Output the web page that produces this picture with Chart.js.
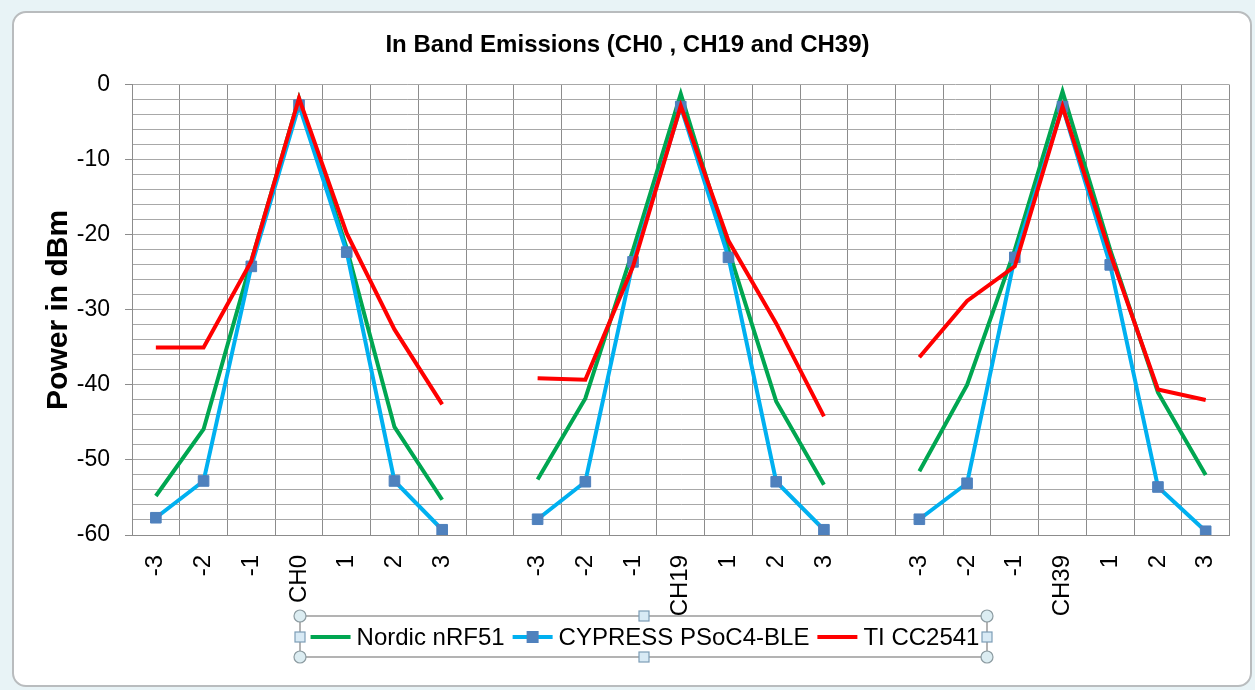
<!DOCTYPE html>
<html><head><meta charset="utf-8">
<script src="https://cdn.jsdelivr.net/npm/chart.js@4/dist/chart.umd.min.js"></script>
<style>
html,body{margin:0;padding:0;background:#e8f3f6;width:1255px;height:690px;overflow:hidden}
#frame{position:absolute;left:12px;top:11px;width:1236px;height:672px;background:#fff;border:2px solid #b9bcbe;border-radius:14px;}
#wrap{position:absolute;left:0;top:0;width:1255px;height:690px}
</style></head><body>
<div id="frame"></div>
<div id="wrap"><canvas id="c" width="1255" height="690"></canvas></div>
<script>
// ---- data ----
const categories = ['-3','-2','-1','CH0','1','2','3','',
                    '-3','-2','-1','CH19','1','2','3','',
                    '-3','-2','-1','CH39','1','2','3'];
const nordicNRF51 = [-54.8,-45.9,-23.5,-1.8,-21.8,-45.6,-55.3,null,
                     -52.6,-41.8,-22.0,-1.2,-22.0,-42.2,-53.3,null,
                     -51.5,-40.0,-22.0,-0.9,-22.0,-41.0,-52.0];
const cypressPSoC4 = [-57.7,-52.8,-24.2,-2.7,-22.3,-52.8,-59.3,null,
                      -57.9,-52.9,-23.6,-2.9,-23.0,-52.9,-59.3,null,
                      -57.9,-53.1,-23.0,-2.9,-24.0,-53.6,-59.5];
const tiCC2541 = [-35.0,-35.0,-23.5,-1.8,-19.8,-32.6,-42.6,null,
                  -39.1,-39.3,-24.2,-2.8,-20.8,-31.8,-44.2,null,
                  -36.3,-28.8,-24.2,-2.9,-22.5,-40.6,-42.0];
const seriesNames = ['Nordic nRF51','CYPRESS PSoC4-BLE','TI CC2541'];
const yMin = -60, yMax = 0, yMinorStep = 2, yMajorStep = 10;
const titleText = 'In Band Emissions (CH0 , CH19 and CH39)';
const yTitle = 'Power in dBm';

const FONT = '"Liberation Sans", Arial, sans-serif';

const legendPlugin = {
  id: 'boxLegend',
  afterDraw(chart) {
    const ctx = chart.ctx;
    const x0 = 300, x1 = 987, y0 = 616, y1 = 657, cy = 637, cx = 645;
    ctx.save();
    ctx.strokeStyle = '#9a9a9a';
    ctx.lineWidth = 1.5;
    ctx.strokeRect(x0, y0, x1 - x0, y1 - y0);
    ctx.font = '24px ' + FONT;
    ctx.textBaseline = 'middle';
    ctx.textAlign = 'left';
    const ds = chart.data.datasets;
    const lineLen = 40, gapText = 6, gapItem = 8;
    const widths = ds.map(d => ctx.measureText(d.label).width);
    let total = 0;
    ds.forEach((d, i) => { total += lineLen + gapText + widths[i] + (i < ds.length - 1 ? gapItem : 0); });
    let x = cx - total / 2;
    ds.forEach((d, i) => {
      ctx.strokeStyle = d.borderColor;
      ctx.lineWidth = 4;
      ctx.beginPath();
      ctx.moveTo(x, cy); ctx.lineTo(x + lineLen, cy);
      ctx.stroke();
      if (d.pointRadius > 0) {
        ctx.fillStyle = d.pointBackgroundColor;
        ctx.fillRect(x + lineLen / 2 - 6, cy - 6, 12, 12);
      }
      ctx.fillStyle = '#000';
      ctx.fillText(d.label, x + lineLen + gapText, cy + 1);
      x += lineLen + gapText + widths[i] + gapItem;
    });
    const circ = (px, py) => { ctx.beginPath(); ctx.arc(px, py, 6, 0, Math.PI * 2); ctx.fillStyle = '#dcedf2'; ctx.fill(); ctx.strokeStyle = '#8c9ba1'; ctx.lineWidth = 1.2; ctx.stroke(); };
    const sq = (px, py) => { ctx.fillStyle = '#d8eaf5'; ctx.fillRect(px - 5, py - 5, 10, 10); ctx.strokeStyle = '#7d9db6'; ctx.lineWidth = 1.2; ctx.strokeRect(px - 5, py - 5, 10, 10); };
    circ(x0, y0); circ(x1, y0); circ(x0, y1); circ(x1, y1);
    sq(x0, cy); sq(x1, cy); sq(644, y0); sq(644, y1);
    ctx.restore();
  }
};

new Chart(document.getElementById('c'), {
  type: 'line',
  data: {
    labels: categories,
    datasets: [
      { label: seriesNames[0], data: nordicNRF51, borderColor: '#00A651', backgroundColor: '#00A651',
        borderWidth: 4, pointRadius: 0, pointHoverRadius: 0, tension: 0, order: 2 },
      { label: seriesNames[1], data: cypressPSoC4, borderColor: '#00B0F0', backgroundColor: '#00B0F0',
        borderWidth: 4, pointStyle: 'rect', pointRadius: 7.5, pointBackgroundColor: '#4F81BD',
        pointBorderColor: '#4F81BD', pointBorderWidth: 1, tension: 0, order: 1 },
      { label: seriesNames[2], data: tiCC2541, borderColor: '#FF0000', backgroundColor: '#FF0000',
        borderWidth: 4, pointRadius: 0, pointHoverRadius: 0, tension: 0, order: 0 }
    ]
  },
  options: {
    responsive: false,
    animation: false,
    devicePixelRatio: 1,
    spanGaps: false,
    layout: { padding: { left: 0, right: 0, top: 0, bottom: 0 } },
    plugins: {
      legend: { display: false },
      tooltip: { enabled: false },
      title: {
        display: true, text: titleText, color: '#000',
        font: { family: FONT, size: 24, weight: 'bold' },
        padding: { top: 31, bottom: 25 }
      }
    },
    scales: {
      x: {
        type: 'category',
        offset: true,
        grid: { offset: true, color: '#8c8c8c', lineWidth: 1, drawTicks: false },
        border: { color: '#8c8c8c', width: 1 },
        ticks: { autoSkip: false, maxRotation: 90, minRotation: 90, padding: 20, color: '#000',
                 font: { family: FONT, size: 24 } },
        afterFit(s) { s.height = 155; }
      },
      y: {
        type: 'linear', position: 'left', min: yMin, max: yMax,
        grid: { color: '#a8a8a8', lineWidth: 1, drawTicks: true, tickLength: 7,
                tickColor: c => (c.tick && c.tick.value % yMajorStep === 0) ? '#8c8c8c' : 'rgba(0,0,0,0)' },
        border: { color: '#8c8c8c', width: 1 },
        ticks: { stepSize: yMinorStep, autoSkip: false, padding: 15, color: '#000',
                 font: { family: FONT, size: 23 },
                 callback: v => (v % yMajorStep === 0) ? String(v) : '' },
        title: { display: true, text: yTitle, color: '#000',
                 font: { family: FONT, size: 30, weight: 'bold' }, padding: { top: 41, bottom: 0 } },
        afterFit(s) { s.width = 132; }
      },
      yRight: {
        type: 'linear', position: 'right', display: true,
        grid: { display: false, drawTicks: false }, border: { display: false },
        ticks: { display: false },
        afterFit(s) { s.width = 24; }
      }
    }
  },
  plugins: [legendPlugin]
});
</script>
</body></html>
